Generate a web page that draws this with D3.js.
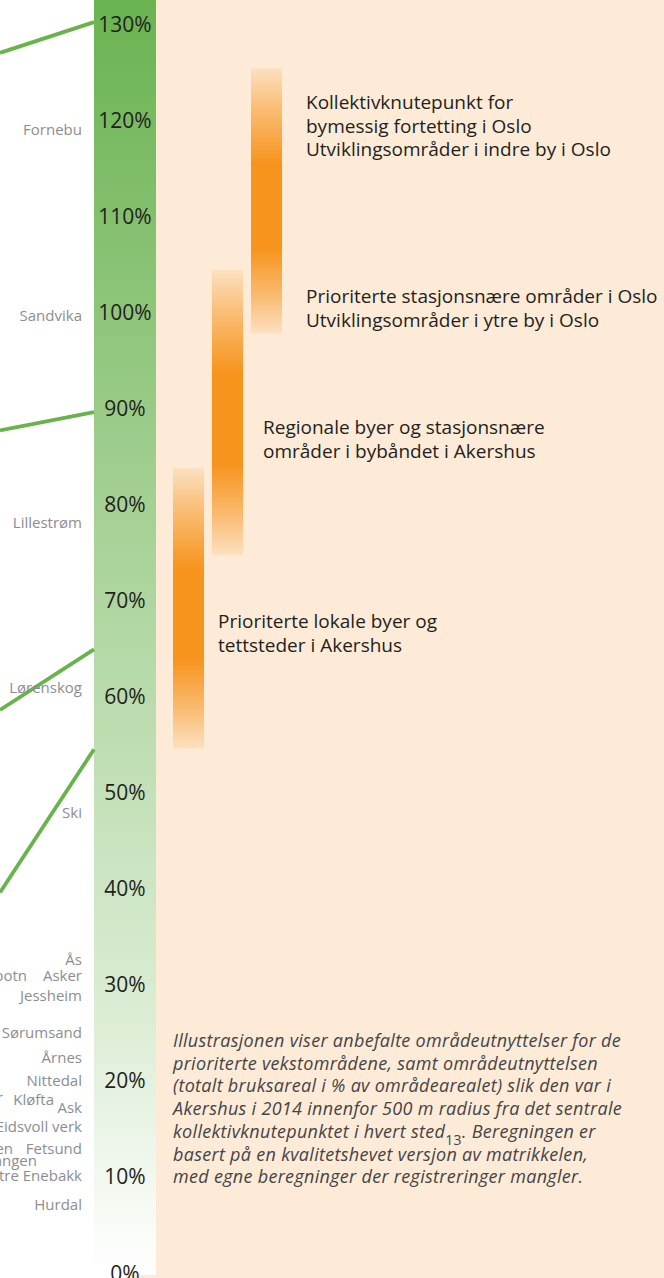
<!DOCTYPE html>
<html><head><meta charset="utf-8">
<script src="https://cdn.jsdelivr.net/npm/d3@7"></script>
<style>
body{margin:0;background:#fff;}
svg{display:block;}
</style>
</head><body>
<svg id="chart" width="664" height="1278"></svg>
<script>
// ---------- data ----------
const tickValues = [0, 10, 20, 30, 40, 50, 60, 70, 80, 90, 100, 110, 120, 130];

const placeNames = ["Fornebu", "Sandvika", "Lillestrøm", "Lørenskog", "Ski", "Ås", "Asker", "Kolbotn",
  "Jessheim", "Sørumsand", "Årnes", "Nittedal", "Frogner", "Kløfta", "Ask", "Eidsvoll verk",
  "Nesoddtangen", "Fetsund", "Bjørkelangen", "Ytre Enebakk", "Hurdal"];
const placeValues = [119.0, 99.6, 78.1, 60.9, 47.9, 32.6, 31.0, 31.0,
  28.9, 25.0, 22.4, 20.0, 18.3, 18.0, 17.2, 15.2,
  13.0, 13.0, 11.7, 10.1, 7.1];
// label layout: right edge of each label (collision avoidance as in the original)
const placeLabelRight = [82, 82, 82, 82, 82, 82, 82, 27,
  82, 82, 82, 82, 3, 54, 82, 82,
  13, 82, 37, 82, 82];

const lineStartValues = [127.0, 87.7, 58.6, 39.6];
const lineEndValues = [130.2, 89.6, 64.9, 54.5];

const barNames = ["Lokale byer Akershus", "Regionale byer Akershus", "Oslo"];
const barLow = [54.6, 74.7, 97.8];
const barHigh = [83.8, 104.4, 125.4];

const barLabelLines = [
  ["Prioriterte lokale byer og", "tettsteder i Akershus"],
  ["Regionale byer og stasjonsnære", "områder i bybåndet i Akershus"],
  ["Prioriterte stasjonsnære områder i Oslo", "Utviklingsområder i ytre by i Oslo"],
  ["Kollektivknutepunkt for", "bymessig fortetting i Oslo", "Utviklingsområder i indre by i Oslo"]
];
const barLabelValues = [66.6, 86.8, 100.4, 119.4];
const barLabelBar = [0, 1, 2, 2];
const barLabelGap = [14, 20, 24, 24];

const noteLines = [
  "Illustrasjonen viser anbefalte områdeutnyttelser for de",
  "prioriterte vekstområdene, samt områdeutnyttelsen",
  "(totalt bruksareal i % av områdearealet) slik den var i",
  "Akershus i 2014 innenfor 500 m radius fra det sentrale",
  ["kollektivknutepunktet i hvert sted", "13", ". Beregningen er"],
  "basert på en kvalitetshevet versjon av matrikkelen,",
  "med egne beregninger der registreringer mangler."
];

// ---------- drawing ----------
const W = 664, H = 1278;
const svg = d3.select("#chart");
const defs = svg.append("defs");

const y = d3.scaleLinear().domain([0, 130]).range([1273, 24]);
const bandX0 = 94, bandX1 = 156;
const xLine = d3.scaleLinear().domain([0, 1]).range([0, bandX0]);
const xBar = d3.scaleBand().domain(d3.range(barNames.length)).range([173, 282]).paddingInner(8 / 39).paddingOuter(0);

// peach background
svg.append("rect").attr("x", bandX1).attr("y", 0).attr("width", W - bandX1).attr("height", H).attr("fill", "#fdebd7");
svg.append("rect").attr("x", 125).attr("y", y(0) + 2).attr("width", bandX1 - 125).attr("height", H - y(0)).attr("fill", "#fdebd7");

// green gradient band
const gg = defs.append("linearGradient").attr("id", "gband").attr("x1", 0).attr("y1", 0).attr("x2", 0).attr("y2", 1);
gg.append("stop").attr("offset", 0).attr("stop-color", "#6ab351");
gg.append("stop").attr("offset", 0.5).attr("stop-color", "#b3d8a5");
gg.append("stop").attr("offset", 0.8).attr("stop-color", "#dcedd5");
gg.append("stop").attr("offset", 1).attr("stop-color", "#ffffff");
svg.append("rect").attr("x", bandX0).attr("y", 0).attr("width", bandX1 - bandX0).attr("height", y(0) + 2).attr("fill", "url(#gband)");

// tick labels
svg.append("g").selectAll("text").data(tickValues).join("text")
  .attr("x", (bandX0 + bandX1) / 2)
  .attr("y", d => y(d))
  .attr("dy", "0.36em")
  .attr("text-anchor", "middle")
  .attr("font-family", "'Open Sans', sans-serif")
  .attr("font-size", 21)
  .attr("fill", "#231f20")
  .text(d => d + "%");

// green lines
svg.append("g").selectAll("line").data(lineStartValues).join("line")
  .attr("x1", xLine(0)).attr("y1", d => y(d))
  .attr("x2", xLine(1)).attr("y2", (d, i) => y(lineEndValues[i]))
  .attr("stroke", "#6ab34c").attr("stroke-width", 3.8).attr("stroke-linecap", "butt");

// place names
svg.append("g").selectAll("text").data(placeNames).join("text")
  .attr("x", (d, i) => placeLabelRight[i])
  .attr("y", (d, i) => y(placeValues[i]))
  .attr("dy", "0.36em")
  .attr("text-anchor", "end")
  .attr("font-family", "'Open Sans', sans-serif")
  .attr("font-size", 15)
  .attr("fill", "#8d8d90")
  .text(d => d);

// orange bars
const og = defs.append("linearGradient").attr("id", "obar").attr("x1", 0).attr("y1", 0).attr("x2", 0).attr("y2", 1);
[[0, 0.12], [0.14, 0.5], [0.36, 1], [0.68, 1], [0.86, 0.55], [1, 0.12]].forEach(([o, op]) =>
  og.append("stop").attr("offset", o).attr("stop-color", "#f7941d").attr("stop-opacity", op));
svg.append("g").selectAll("rect").data(barNames).join("rect")
  .attr("x", (d, i) => xBar(i))
  .attr("y", (d, i) => y(barHigh[i]))
  .attr("width", xBar.bandwidth())
  .attr("height", (d, i) => y(barLow[i]) - y(barHigh[i]))
  .attr("fill", "url(#obar)");

// bar labels
const lh = 23.5;
barLabelLines.forEach((lines, k) => {
  const bx = xBar(barLabelBar[k]) + xBar.bandwidth() + barLabelGap[k];
  const cy = y(barLabelValues[k]);
  const t = svg.append("text")
    .attr("font-family", "'Open Sans', sans-serif")
    .attr("font-size", 19)
    .attr("fill", "#231f20");
  lines.forEach((s, j) => {
    t.append("tspan").attr("x", bx)
      .attr("y", cy + (j - (lines.length - 1) / 2) * lh)
      .attr("dy", "0.36em")
      .text(s);
  });
});

// note (italic)
const note = svg.append("text")
  .attr("font-family", "'Open Sans', sans-serif")
  .attr("font-style", "italic")
  .attr("font-size", 18)
  .attr("letter-spacing", 0.3)
  .attr("fill", "#444446");
noteLines.forEach((ln, j) => {
  const by = 1047 + j * 22.7;
  if (Array.isArray(ln)) {
    note.append("tspan").attr("x", 173).attr("y", by).text(ln[0]);
    note.append("tspan").attr("font-style", "normal").attr("font-size", 14).attr("dy", 7).text(ln[1]);
    note.append("tspan").attr("dy", -7).text(ln[2]);
  } else {
    note.append("tspan").attr("x", 173).attr("y", by).text(ln);
  }
});
</script>
</body></html>
